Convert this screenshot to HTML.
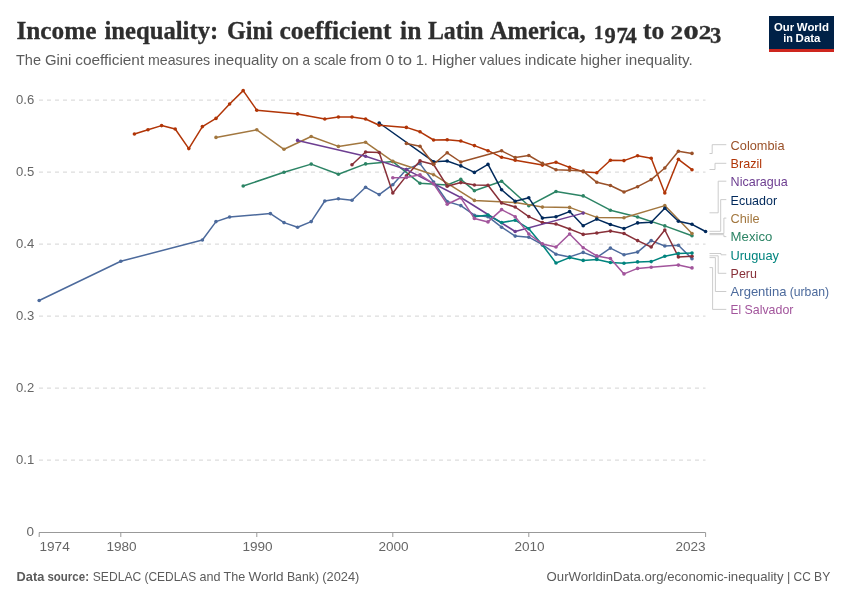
<!DOCTYPE html>
<html lang="en"><head><meta charset="utf-8"><title>Income inequality: Gini coefficient in Latin America, 1974 to 2023</title>
<style>
html,body{margin:0;padding:0;background:#fff;}
body{width:850px;height:600px;overflow:hidden;position:relative;font-family:"Liberation Sans",sans-serif;}
svg{position:absolute;left:0;top:0;display:block;}
text{font-family:"Liberation Sans",sans-serif;white-space:pre;}
.title{font-family:"Liberation Serif",serif;font-weight:bold;fill:#2e2e2e;font-size:26px;stroke:#2e2e2e;stroke-width:0.3px;}
.sub{fill:#5b5b5b;font-size:15px;}
.ax{fill:#666;font-size:13px;}
.ft{fill:#5b5b5b;font-size:13px;}
.lg{font-size:13px;}
.logo{font-size:11.7px;font-weight:bold;fill:#fff;}
</style></head><body>
<svg width="850" height="600" viewBox="0 0 850 600">
<rect width="850" height="600" fill="#fff"/>
<text class="title" y="38.9"><tspan x="16.4" y="38.9" textLength="80.2" lengthAdjust="spacingAndGlyphs">Income</tspan> <tspan x="104.4" y="38.9" textLength="113.9" lengthAdjust="spacingAndGlyphs">inequality:</tspan> <tspan x="227.0" y="38.9" textLength="45.6" lengthAdjust="spacingAndGlyphs">Gini</tspan> <tspan x="279.5" y="38.9" textLength="112.0" lengthAdjust="spacingAndGlyphs">coefficient</tspan> <tspan x="400.1" y="38.9" textLength="21.4" lengthAdjust="spacingAndGlyphs">in</tspan> <tspan x="427.9" y="38.9" textLength="55.7" lengthAdjust="spacingAndGlyphs">Latin</tspan> <tspan x="489.9" y="38.9" textLength="95.8" lengthAdjust="spacingAndGlyphs">America,</tspan> <tspan x="594.1" y="38.9" style="font-size:18.6px">1</tspan><tspan x="610.0" y="42.7" text-anchor="middle" style="font-size:22.5px">9</tspan><tspan x="622.0" y="42.7" text-anchor="middle" style="font-size:22.5px">7</tspan><tspan x="631.0" y="42.7" text-anchor="middle" style="font-size:22.5px">4</tspan><tspan y="38.9"> </tspan><tspan x="643.0" y="38.9" textLength="21.3" lengthAdjust="spacingAndGlyphs">to</tspan> <tspan x="670.6" y="38.9" style="font-size:18.6px" textLength="12.5" lengthAdjust="spacingAndGlyphs">2</tspan><tspan x="683.4" y="38.9" style="font-size:18.6px" textLength="15.1" lengthAdjust="spacingAndGlyphs">0</tspan><tspan x="698.7" y="38.9" style="font-size:18.6px" textLength="12.6" lengthAdjust="spacingAndGlyphs">2</tspan><tspan x="715.5" y="42.7" text-anchor="middle" style="font-size:22.5px">3</tspan><tspan y="38.9"> </tspan></text>
<text class="sub" y="64.8" ><tspan x="16.0" textLength="25.0" lengthAdjust="spacingAndGlyphs">The</tspan> <tspan x="44.9" textLength="26.5" lengthAdjust="spacingAndGlyphs">Gini</tspan> <tspan x="75.2" textLength="69.0" lengthAdjust="spacingAndGlyphs">coefficient</tspan> <tspan x="148.0" textLength="62.1" lengthAdjust="spacingAndGlyphs">measures</tspan> <tspan x="214.0" textLength="64.0" lengthAdjust="spacingAndGlyphs">inequality</tspan> <tspan x="281.9" textLength="16.9" lengthAdjust="spacingAndGlyphs">on</tspan> <tspan x="302.6" textLength="7.5" lengthAdjust="spacingAndGlyphs">a</tspan> <tspan x="313.9" textLength="32.6" lengthAdjust="spacingAndGlyphs">scale</tspan> <tspan x="350.3" textLength="31.3" lengthAdjust="spacingAndGlyphs">from</tspan> <tspan x="385.4" textLength="8.7" lengthAdjust="spacingAndGlyphs">0</tspan> <tspan x="398.0" textLength="13.9" lengthAdjust="spacingAndGlyphs">to</tspan> <tspan x="415.7" textLength="12.2" lengthAdjust="spacingAndGlyphs">1.</tspan> <tspan x="431.8" textLength="44.2" lengthAdjust="spacingAndGlyphs">Higher</tspan> <tspan x="479.5" textLength="41.4" lengthAdjust="spacingAndGlyphs">values</tspan> <tspan x="524.7" textLength="51.8" lengthAdjust="spacingAndGlyphs">indicate</tspan> <tspan x="580.2" textLength="41.2" lengthAdjust="spacingAndGlyphs">higher</tspan> <tspan x="625.3" textLength="67.4" lengthAdjust="spacingAndGlyphs">inequality.</tspan></text>
<rect x="769" y="16" width="65" height="36" fill="#002147"/><rect x="769" y="49" width="65" height="3" fill="#ce261e"/>
<text class="logo" y="30.7" ><tspan x="774.0" textLength="20.1" lengthAdjust="spacingAndGlyphs">Our</tspan> <tspan x="796.8" textLength="32.2" lengthAdjust="spacingAndGlyphs">World</tspan></text>
<text class="logo" y="42.1" ><tspan x="783.2" textLength="9.6" lengthAdjust="spacingAndGlyphs">in</tspan> <tspan x="795.6" textLength="24.9" lengthAdjust="spacingAndGlyphs">Data</tspan></text>
<line x1="39" x2="705.5" y1="100.1" y2="100.1" stroke="#ddd" stroke-width="1.1" stroke-dasharray="4,4"/>
<text class="ax" x="16" y="104.0" textLength="18.2" lengthAdjust="spacingAndGlyphs">0.6</text>
<line x1="39" x2="705.5" y1="172.1" y2="172.1" stroke="#ddd" stroke-width="1.1" stroke-dasharray="4,4"/>
<text class="ax" x="16" y="176.0" textLength="18.2" lengthAdjust="spacingAndGlyphs">0.5</text>
<line x1="39" x2="705.5" y1="244.1" y2="244.1" stroke="#ddd" stroke-width="1.1" stroke-dasharray="4,4"/>
<text class="ax" x="16" y="248.0" textLength="18.2" lengthAdjust="spacingAndGlyphs">0.4</text>
<line x1="39" x2="705.5" y1="316.1" y2="316.1" stroke="#ddd" stroke-width="1.1" stroke-dasharray="4,4"/>
<text class="ax" x="16" y="320.0" textLength="18.2" lengthAdjust="spacingAndGlyphs">0.3</text>
<line x1="39" x2="705.5" y1="388.1" y2="388.1" stroke="#ddd" stroke-width="1.1" stroke-dasharray="4,4"/>
<text class="ax" x="16" y="392.0" textLength="18.2" lengthAdjust="spacingAndGlyphs">0.2</text>
<line x1="39" x2="705.5" y1="460.1" y2="460.1" stroke="#ddd" stroke-width="1.1" stroke-dasharray="4,4"/>
<text class="ax" x="16" y="464.0" textLength="18.2" lengthAdjust="spacingAndGlyphs">0.1</text>
<text class="ax" x="26.5" y="536.3" textLength="7.5" lengthAdjust="spacingAndGlyphs">0</text>
<line x1="39" x2="705.5" y1="532.5" y2="532.5" stroke="#999" stroke-width="1"/>
<line x1="39.2" x2="39.2" y1="532.5" y2="537" stroke="#999" stroke-width="1"/>
<text class="ax" x="39.5" y="550.7" textLength="30.2" lengthAdjust="spacingAndGlyphs">1974</text>
<line x1="120.8" x2="120.8" y1="532.5" y2="537" stroke="#999" stroke-width="1"/>
<text class="ax" x="121.5" y="550.7" text-anchor="middle" textLength="30.2" lengthAdjust="spacingAndGlyphs">1980</text>
<line x1="256.8" x2="256.8" y1="532.5" y2="537" stroke="#999" stroke-width="1"/>
<text class="ax" x="257.5" y="550.7" text-anchor="middle" textLength="30.2" lengthAdjust="spacingAndGlyphs">1990</text>
<line x1="392.8" x2="392.8" y1="532.5" y2="537" stroke="#999" stroke-width="1"/>
<text class="ax" x="393.5" y="550.7" text-anchor="middle" textLength="30.2" lengthAdjust="spacingAndGlyphs">2000</text>
<line x1="528.8" x2="528.8" y1="532.5" y2="537" stroke="#999" stroke-width="1"/>
<text class="ax" x="529.5" y="550.7" text-anchor="middle" textLength="30.2" lengthAdjust="spacingAndGlyphs">2010</text>
<line x1="705.6" x2="705.6" y1="532.5" y2="537" stroke="#999" stroke-width="1"/>
<text class="ax" x="705.6" y="550.7" text-anchor="end" textLength="30.2" lengthAdjust="spacingAndGlyphs">2023</text>
<g fill="#4C6A9C" stroke="none"><path d="M39.2,300.5 L120.8,261.3 L202.4,240.0 L216.0,221.6 L229.6,217.0 L270.4,213.6 L284.0,222.6 L297.6,227.2 L311.2,221.6 L324.8,201.0 L338.4,198.8 L352.0,200.2 L365.6,187.3 L379.2,194.6 L392.8,184.7 L406.4,169.6 L420.0,163.6 L433.6,182.0 L447.2,201.5 L460.8,205.6 L474.4,215.2 L488.0,216.7 L501.6,227.2 L515.2,236.1 L528.8,237.2 L542.4,244.6 L556.0,254.2 L569.6,256.9 L583.2,252.4 L596.8,257.5 L610.4,248.1 L624.0,254.8 L637.6,252.1 L651.2,240.6 L664.8,246.0 L678.4,245.3 L692.0,258.7" fill="none" stroke="#4C6A9C" stroke-width="1.5" stroke-linejoin="round" stroke-linecap="round"/><circle cx="39.2" cy="300.5" r="1.8"/><circle cx="120.8" cy="261.3" r="1.8"/><circle cx="202.4" cy="240.0" r="1.8"/><circle cx="216.0" cy="221.6" r="1.8"/><circle cx="229.6" cy="217.0" r="1.8"/><circle cx="270.4" cy="213.6" r="1.8"/><circle cx="284.0" cy="222.6" r="1.8"/><circle cx="297.6" cy="227.2" r="1.8"/><circle cx="311.2" cy="221.6" r="1.8"/><circle cx="324.8" cy="201.0" r="1.8"/><circle cx="338.4" cy="198.8" r="1.8"/><circle cx="352.0" cy="200.2" r="1.8"/><circle cx="365.6" cy="187.3" r="1.8"/><circle cx="379.2" cy="194.6" r="1.8"/><circle cx="392.8" cy="184.7" r="1.8"/><circle cx="406.4" cy="169.6" r="1.8"/><circle cx="420.0" cy="163.6" r="1.8"/><circle cx="433.6" cy="182.0" r="1.8"/><circle cx="447.2" cy="201.5" r="1.8"/><circle cx="460.8" cy="205.6" r="1.8"/><circle cx="474.4" cy="215.2" r="1.8"/><circle cx="488.0" cy="216.7" r="1.8"/><circle cx="501.6" cy="227.2" r="1.8"/><circle cx="515.2" cy="236.1" r="1.8"/><circle cx="528.8" cy="237.2" r="1.8"/><circle cx="542.4" cy="244.6" r="1.8"/><circle cx="556.0" cy="254.2" r="1.8"/><circle cx="569.6" cy="256.9" r="1.8"/><circle cx="583.2" cy="252.4" r="1.8"/><circle cx="596.8" cy="257.5" r="1.8"/><circle cx="610.4" cy="248.1" r="1.8"/><circle cx="624.0" cy="254.8" r="1.8"/><circle cx="637.6" cy="252.1" r="1.8"/><circle cx="651.2" cy="240.6" r="1.8"/><circle cx="664.8" cy="246.0" r="1.8"/><circle cx="678.4" cy="245.3" r="1.8"/><circle cx="692.0" cy="258.7" r="1.8"/></g>
<g fill="#2C8465" stroke="none"><path d="M243.2,186.0 L284.0,172.2 L311.2,164.1 L338.4,174.3 L365.6,163.9 L392.8,161.6 L420.0,183.3 L447.2,185.0 L460.8,179.4 L474.4,190.7 L501.6,181.3 L528.8,205.8 L556.0,191.5 L583.2,195.9 L610.4,210.2 L637.6,217.0 L664.8,225.9 L692.0,235.8" fill="none" stroke="#2C8465" stroke-width="1.5" stroke-linejoin="round" stroke-linecap="round"/><circle cx="243.2" cy="186.0" r="1.8"/><circle cx="284.0" cy="172.2" r="1.8"/><circle cx="311.2" cy="164.1" r="1.8"/><circle cx="338.4" cy="174.3" r="1.8"/><circle cx="365.6" cy="163.9" r="1.8"/><circle cx="392.8" cy="161.6" r="1.8"/><circle cx="420.0" cy="183.3" r="1.8"/><circle cx="447.2" cy="185.0" r="1.8"/><circle cx="460.8" cy="179.4" r="1.8"/><circle cx="474.4" cy="190.7" r="1.8"/><circle cx="501.6" cy="181.3" r="1.8"/><circle cx="528.8" cy="205.8" r="1.8"/><circle cx="556.0" cy="191.5" r="1.8"/><circle cx="583.2" cy="195.9" r="1.8"/><circle cx="610.4" cy="210.2" r="1.8"/><circle cx="637.6" cy="217.0" r="1.8"/><circle cx="664.8" cy="225.9" r="1.8"/><circle cx="692.0" cy="235.8" r="1.8"/></g>
<g fill="#A2773F" stroke="none"><path d="M216.0,137.4 L256.8,129.8 L284.0,149.3 L311.2,136.5 L338.4,146.4 L365.6,142.3 L392.8,161.3 L433.6,174.7 L474.4,200.4 L515.2,202.5 L542.4,207.1 L569.6,207.4 L596.8,217.4 L624.0,217.7 L664.8,205.6 L692.0,233.5" fill="none" stroke="#A2773F" stroke-width="1.5" stroke-linejoin="round" stroke-linecap="round"/><circle cx="216.0" cy="137.4" r="1.8"/><circle cx="256.8" cy="129.8" r="1.8"/><circle cx="284.0" cy="149.3" r="1.8"/><circle cx="311.2" cy="136.5" r="1.8"/><circle cx="338.4" cy="146.4" r="1.8"/><circle cx="365.6" cy="142.3" r="1.8"/><circle cx="392.8" cy="161.3" r="1.8"/><circle cx="433.6" cy="174.7" r="1.8"/><circle cx="474.4" cy="200.4" r="1.8"/><circle cx="515.2" cy="202.5" r="1.8"/><circle cx="542.4" cy="207.1" r="1.8"/><circle cx="569.6" cy="207.4" r="1.8"/><circle cx="596.8" cy="217.4" r="1.8"/><circle cx="624.0" cy="217.7" r="1.8"/><circle cx="664.8" cy="205.6" r="1.8"/><circle cx="692.0" cy="233.5" r="1.8"/></g>
<g fill="#00295B" stroke="none"><path d="M379.2,123.0 L433.6,161.7 L447.2,161.0 L460.8,165.9 L474.4,172.4 L488.0,164.4 L501.6,189.8 L515.2,201.3 L528.8,197.8 L542.4,218.1 L556.0,216.7 L569.6,211.6 L583.2,225.7 L596.8,219.1 L610.4,224.5 L624.0,228.6 L637.6,222.9 L651.2,222.2 L664.8,208.2 L678.4,221.2 L692.0,224.3 L705.6,231.5" fill="none" stroke="#00295B" stroke-width="1.5" stroke-linejoin="round" stroke-linecap="round"/><circle cx="379.2" cy="123.0" r="1.8"/><circle cx="433.6" cy="161.7" r="1.8"/><circle cx="447.2" cy="161.0" r="1.8"/><circle cx="460.8" cy="165.9" r="1.8"/><circle cx="474.4" cy="172.4" r="1.8"/><circle cx="488.0" cy="164.4" r="1.8"/><circle cx="501.6" cy="189.8" r="1.8"/><circle cx="515.2" cy="201.3" r="1.8"/><circle cx="528.8" cy="197.8" r="1.8"/><circle cx="542.4" cy="218.1" r="1.8"/><circle cx="556.0" cy="216.7" r="1.8"/><circle cx="569.6" cy="211.6" r="1.8"/><circle cx="583.2" cy="225.7" r="1.8"/><circle cx="596.8" cy="219.1" r="1.8"/><circle cx="610.4" cy="224.5" r="1.8"/><circle cx="624.0" cy="228.6" r="1.8"/><circle cx="637.6" cy="222.9" r="1.8"/><circle cx="651.2" cy="222.2" r="1.8"/><circle cx="664.8" cy="208.2" r="1.8"/><circle cx="678.4" cy="221.2" r="1.8"/><circle cx="692.0" cy="224.3" r="1.8"/><circle cx="705.6" cy="231.5" r="1.8"/></g>
<g fill="#883039" stroke="none"><path d="M352.0,164.7 L365.6,152.0 L379.2,152.5 L392.8,193.0 L406.4,175.9 L420.0,160.9 L433.6,164.5 L447.2,186.2 L460.8,182.6 L474.4,185.0 L488.0,185.2 L501.6,203.0 L515.2,207.0 L528.8,216.6 L542.4,222.6 L556.0,224.0 L569.6,229.0 L583.2,234.4 L596.8,233.0 L610.4,231.1 L624.0,233.5 L637.6,240.6 L651.2,247.0 L664.8,230.0 L678.4,256.9 L692.0,256.2" fill="none" stroke="#883039" stroke-width="1.5" stroke-linejoin="round" stroke-linecap="round"/><circle cx="352.0" cy="164.7" r="1.8"/><circle cx="365.6" cy="152.0" r="1.8"/><circle cx="379.2" cy="152.5" r="1.8"/><circle cx="392.8" cy="193.0" r="1.8"/><circle cx="406.4" cy="175.9" r="1.8"/><circle cx="420.0" cy="160.9" r="1.8"/><circle cx="433.6" cy="164.5" r="1.8"/><circle cx="447.2" cy="186.2" r="1.8"/><circle cx="460.8" cy="182.6" r="1.8"/><circle cx="474.4" cy="185.0" r="1.8"/><circle cx="488.0" cy="185.2" r="1.8"/><circle cx="501.6" cy="203.0" r="1.8"/><circle cx="515.2" cy="207.0" r="1.8"/><circle cx="528.8" cy="216.6" r="1.8"/><circle cx="542.4" cy="222.6" r="1.8"/><circle cx="556.0" cy="224.0" r="1.8"/><circle cx="569.6" cy="229.0" r="1.8"/><circle cx="583.2" cy="234.4" r="1.8"/><circle cx="596.8" cy="233.0" r="1.8"/><circle cx="610.4" cy="231.1" r="1.8"/><circle cx="624.0" cy="233.5" r="1.8"/><circle cx="637.6" cy="240.6" r="1.8"/><circle cx="651.2" cy="247.0" r="1.8"/><circle cx="664.8" cy="230.0" r="1.8"/><circle cx="678.4" cy="256.9" r="1.8"/><circle cx="692.0" cy="256.2" r="1.8"/></g>
<g fill="#B13507" stroke="none"><path d="M134.4,134.0 L148.0,129.8 L161.6,125.6 L175.2,129.0 L188.8,148.6 L202.4,126.6 L216.0,118.4 L229.6,104.0 L243.2,90.6 L256.8,110.2 L297.6,113.9 L324.8,119.0 L338.4,117.0 L352.0,117.0 L365.6,119.0 L379.2,125.3 L406.4,127.4 L420.0,131.8 L433.6,140.0 L447.2,139.7 L460.8,141.0 L474.4,145.6 L488.0,150.7 L501.6,157.3 L515.2,160.2 L542.4,165.1 L556.0,162.3 L569.6,167.4 L583.2,171.8 L596.8,172.8 L610.4,160.2 L624.0,160.6 L637.6,155.8 L651.2,158.3 L664.8,193.0 L678.4,159.3 L692.0,169.7" fill="none" stroke="#B13507" stroke-width="1.5" stroke-linejoin="round" stroke-linecap="round"/><circle cx="134.4" cy="134.0" r="1.8"/><circle cx="148.0" cy="129.8" r="1.8"/><circle cx="161.6" cy="125.6" r="1.8"/><circle cx="175.2" cy="129.0" r="1.8"/><circle cx="188.8" cy="148.6" r="1.8"/><circle cx="202.4" cy="126.6" r="1.8"/><circle cx="216.0" cy="118.4" r="1.8"/><circle cx="229.6" cy="104.0" r="1.8"/><circle cx="243.2" cy="90.6" r="1.8"/><circle cx="256.8" cy="110.2" r="1.8"/><circle cx="297.6" cy="113.9" r="1.8"/><circle cx="324.8" cy="119.0" r="1.8"/><circle cx="338.4" cy="117.0" r="1.8"/><circle cx="352.0" cy="117.0" r="1.8"/><circle cx="365.6" cy="119.0" r="1.8"/><circle cx="379.2" cy="125.3" r="1.8"/><circle cx="406.4" cy="127.4" r="1.8"/><circle cx="420.0" cy="131.8" r="1.8"/><circle cx="433.6" cy="140.0" r="1.8"/><circle cx="447.2" cy="139.7" r="1.8"/><circle cx="460.8" cy="141.0" r="1.8"/><circle cx="474.4" cy="145.6" r="1.8"/><circle cx="488.0" cy="150.7" r="1.8"/><circle cx="501.6" cy="157.3" r="1.8"/><circle cx="515.2" cy="160.2" r="1.8"/><circle cx="542.4" cy="165.1" r="1.8"/><circle cx="556.0" cy="162.3" r="1.8"/><circle cx="569.6" cy="167.4" r="1.8"/><circle cx="583.2" cy="171.8" r="1.8"/><circle cx="596.8" cy="172.8" r="1.8"/><circle cx="610.4" cy="160.2" r="1.8"/><circle cx="624.0" cy="160.6" r="1.8"/><circle cx="637.6" cy="155.8" r="1.8"/><circle cx="651.2" cy="158.3" r="1.8"/><circle cx="664.8" cy="193.0" r="1.8"/><circle cx="678.4" cy="159.3" r="1.8"/><circle cx="692.0" cy="169.7" r="1.8"/></g>
<g fill="#9A5129" stroke="none"><path d="M406.4,143.4 L420.0,146.3 L433.6,164.2 L447.2,152.8 L460.8,162.0 L501.6,150.8 L515.2,157.6 L528.8,155.5 L542.4,163.4 L556.0,169.7 L569.6,170.2 L583.2,171.1 L596.8,182.3 L610.4,185.5 L624.0,192.0 L637.6,186.7 L651.2,179.6 L664.8,168.0 L678.4,151.2 L692.0,153.4" fill="none" stroke="#9A5129" stroke-width="1.5" stroke-linejoin="round" stroke-linecap="round"/><circle cx="406.4" cy="143.4" r="1.8"/><circle cx="420.0" cy="146.3" r="1.8"/><circle cx="433.6" cy="164.2" r="1.8"/><circle cx="447.2" cy="152.8" r="1.8"/><circle cx="460.8" cy="162.0" r="1.8"/><circle cx="501.6" cy="150.8" r="1.8"/><circle cx="515.2" cy="157.6" r="1.8"/><circle cx="528.8" cy="155.5" r="1.8"/><circle cx="542.4" cy="163.4" r="1.8"/><circle cx="556.0" cy="169.7" r="1.8"/><circle cx="569.6" cy="170.2" r="1.8"/><circle cx="583.2" cy="171.1" r="1.8"/><circle cx="596.8" cy="182.3" r="1.8"/><circle cx="610.4" cy="185.5" r="1.8"/><circle cx="624.0" cy="192.0" r="1.8"/><circle cx="637.6" cy="186.7" r="1.8"/><circle cx="651.2" cy="179.6" r="1.8"/><circle cx="664.8" cy="168.0" r="1.8"/><circle cx="678.4" cy="151.2" r="1.8"/><circle cx="692.0" cy="153.4" r="1.8"/></g>
<g fill="#6D3E91" stroke="none"><path d="M297.6,140.4 L365.6,156.3 L406.4,169.6 L460.8,197.5 L515.2,231.5 L583.2,213.1" fill="none" stroke="#6D3E91" stroke-width="1.5" stroke-linejoin="round" stroke-linecap="round"/><circle cx="297.6" cy="140.4" r="1.8"/><circle cx="365.6" cy="156.3" r="1.8"/><circle cx="406.4" cy="169.6" r="1.8"/><circle cx="460.8" cy="197.5" r="1.8"/><circle cx="515.2" cy="231.5" r="1.8"/><circle cx="583.2" cy="213.1" r="1.8"/></g>
<g fill="#00847E" stroke="none"><path d="M474.4,216.7 L488.0,215.0 L501.6,222.6 L515.2,220.2 L528.8,228.7 L542.4,245.0 L556.0,263.0 L569.6,257.6 L583.2,260.4 L596.8,259.4 L610.4,262.5 L624.0,263.3 L637.6,261.9 L651.2,261.6 L664.8,256.3 L678.4,253.5 L692.0,253.1" fill="none" stroke="#00847E" stroke-width="1.5" stroke-linejoin="round" stroke-linecap="round"/><circle cx="474.4" cy="216.7" r="1.8"/><circle cx="488.0" cy="215.0" r="1.8"/><circle cx="501.6" cy="222.6" r="1.8"/><circle cx="515.2" cy="220.2" r="1.8"/><circle cx="528.8" cy="228.7" r="1.8"/><circle cx="542.4" cy="245.0" r="1.8"/><circle cx="556.0" cy="263.0" r="1.8"/><circle cx="569.6" cy="257.6" r="1.8"/><circle cx="583.2" cy="260.4" r="1.8"/><circle cx="596.8" cy="259.4" r="1.8"/><circle cx="610.4" cy="262.5" r="1.8"/><circle cx="624.0" cy="263.3" r="1.8"/><circle cx="637.6" cy="261.9" r="1.8"/><circle cx="651.2" cy="261.6" r="1.8"/><circle cx="664.8" cy="256.3" r="1.8"/><circle cx="678.4" cy="253.5" r="1.8"/><circle cx="692.0" cy="253.1" r="1.8"/></g>
<g fill="#A2559C" stroke="none"><path d="M392.8,177.8 L406.4,177.4 L420.0,174.8 L433.6,183.9 L447.2,204.2 L460.8,197.8 L474.4,218.4 L488.0,221.9 L501.6,209.6 L515.2,216.7 L528.8,234.0 L542.4,243.9 L556.0,247.0 L569.6,234.0 L583.2,247.7 L596.8,255.9 L610.4,258.5 L624.0,273.9 L637.6,268.4 L651.2,267.2 L678.4,265.1 L692.0,267.9" fill="none" stroke="#A2559C" stroke-width="1.5" stroke-linejoin="round" stroke-linecap="round"/><circle cx="392.8" cy="177.8" r="1.8"/><circle cx="406.4" cy="177.4" r="1.8"/><circle cx="420.0" cy="174.8" r="1.8"/><circle cx="433.6" cy="183.9" r="1.8"/><circle cx="447.2" cy="204.2" r="1.8"/><circle cx="460.8" cy="197.8" r="1.8"/><circle cx="474.4" cy="218.4" r="1.8"/><circle cx="488.0" cy="221.9" r="1.8"/><circle cx="501.6" cy="209.6" r="1.8"/><circle cx="515.2" cy="216.7" r="1.8"/><circle cx="528.8" cy="234.0" r="1.8"/><circle cx="542.4" cy="243.9" r="1.8"/><circle cx="556.0" cy="247.0" r="1.8"/><circle cx="569.6" cy="234.0" r="1.8"/><circle cx="583.2" cy="247.7" r="1.8"/><circle cx="596.8" cy="255.9" r="1.8"/><circle cx="610.4" cy="258.5" r="1.8"/><circle cx="624.0" cy="273.9" r="1.8"/><circle cx="637.6" cy="268.4" r="1.8"/><circle cx="651.2" cy="267.2" r="1.8"/><circle cx="678.4" cy="265.1" r="1.8"/><circle cx="692.0" cy="267.9" r="1.8"/></g>
<path d="M709.5,153.5 L712.2,153.5 L712.2,144.7 L726.3,144.7" fill="none" stroke="#c6c6c6" stroke-width="0.9"/>
<text class="lg" y="149.8" fill="#9A5129"><tspan x="730.6" textLength="53.9" lengthAdjust="spacingAndGlyphs">Colombia</tspan></text>
<path d="M709.5,169.5 L715.0,169.5 L715.0,163.3 L726.3,163.3" fill="none" stroke="#c6c6c6" stroke-width="0.9"/>
<text class="lg" y="168.1" fill="#B13507"><tspan x="730.6" textLength="31.4" lengthAdjust="spacingAndGlyphs">Brazil</tspan></text>
<path d="M709.5,212.8 L718.2,212.8 L718.2,181.2 L726.3,181.2" fill="none" stroke="#c6c6c6" stroke-width="0.9"/>
<text class="lg" y="186.4" fill="#6D3E91"><tspan x="730.6" textLength="57.2" lengthAdjust="spacingAndGlyphs">Nicaragua</tspan></text>
<path d="M709.5,231.3 L720.7,231.3 L720.7,199.6 L726.3,199.6" fill="none" stroke="#c6c6c6" stroke-width="0.9"/>
<text class="lg" y="204.7" fill="#00295B"><tspan x="730.6" textLength="46.5" lengthAdjust="spacingAndGlyphs">Ecuador</tspan></text>
<path d="M709.5,233.5 L723.9,233.5 L723.9,218.1 L726.3,218.1" fill="none" stroke="#c6c6c6" stroke-width="0.9"/>
<text class="lg" y="222.9" fill="#A2773F"><tspan x="730.6" textLength="29.0" lengthAdjust="spacingAndGlyphs">Chile</tspan></text>
<path d="M709.5,234.7 L723.9,234.7 L723.9,236.6 L726.3,236.6" fill="none" stroke="#c6c6c6" stroke-width="0.9"/>
<text class="lg" y="241.2" fill="#2C8465"><tspan x="730.6" textLength="41.7" lengthAdjust="spacingAndGlyphs">Mexico</tspan></text>
<path d="M709.5,253.5 L721.0,253.5 L721.0,254.8 L726.3,254.8" fill="none" stroke="#c6c6c6" stroke-width="0.9"/>
<text class="lg" y="259.5" fill="#00847E"><tspan x="730.6" textLength="48.4" lengthAdjust="spacingAndGlyphs">Uruguay</tspan></text>
<path d="M709.5,255.8 L718.2,255.8 L718.2,273.3 L726.3,273.3" fill="none" stroke="#c6c6c6" stroke-width="0.9"/>
<text class="lg" y="277.7" fill="#883039"><tspan x="730.6" textLength="26.3" lengthAdjust="spacingAndGlyphs">Peru</tspan></text>
<path d="M709.5,257.6 L715.4,257.6 L715.4,291.5 L726.3,291.5" fill="none" stroke="#c6c6c6" stroke-width="0.9"/>
<text class="lg" y="296.0" fill="#4C6A9C"><tspan x="730.6" textLength="55.8" lengthAdjust="spacingAndGlyphs">Argentina</tspan> <tspan x="789.7" textLength="39.4" lengthAdjust="spacingAndGlyphs">(urban)</tspan></text>
<path d="M709.5,267.6 L712.6,267.6 L712.6,309.4 L726.3,309.4" fill="none" stroke="#c6c6c6" stroke-width="0.9"/>
<text class="lg" y="314.2" fill="#A2559C"><tspan x="730.6" textLength="10.5" lengthAdjust="spacingAndGlyphs">El</tspan> <tspan x="744.5" textLength="48.9" lengthAdjust="spacingAndGlyphs">Salvador</tspan></text>
<text class="ft" y="580.7" font-weight="bold"><tspan x="16.6" textLength="27.7" lengthAdjust="spacingAndGlyphs">Data</tspan> <tspan x="47.4" textLength="41.6" lengthAdjust="spacingAndGlyphs">source:</tspan></text>
<text class="ft" y="580.7" ><tspan x="92.8" textLength="48.4" lengthAdjust="spacingAndGlyphs">SEDLAC</tspan> <tspan x="144.5" textLength="51.8" lengthAdjust="spacingAndGlyphs">(CEDLAS</tspan> <tspan x="199.6" textLength="21.0" lengthAdjust="spacingAndGlyphs">and</tspan> <tspan x="223.6" textLength="21.7" lengthAdjust="spacingAndGlyphs">The</tspan> <tspan x="248.4" textLength="35.2" lengthAdjust="spacingAndGlyphs">World</tspan> <tspan x="286.9" textLength="32.1" lengthAdjust="spacingAndGlyphs">Bank)</tspan> <tspan x="322.3" textLength="37.1" lengthAdjust="spacingAndGlyphs">(2024)</tspan></text>
<text class="ft" y="580.7" ><tspan x="546.6" textLength="237.0" lengthAdjust="spacingAndGlyphs">OurWorldinData.org/economic-inequality</tspan> <tspan x="787.0" textLength="3.3" lengthAdjust="spacingAndGlyphs">|</tspan> <tspan x="793.6" textLength="17.2" lengthAdjust="spacingAndGlyphs">CC</tspan> <tspan x="814.1" textLength="16.2" lengthAdjust="spacingAndGlyphs">BY</tspan></text>
</svg>
</body></html>
